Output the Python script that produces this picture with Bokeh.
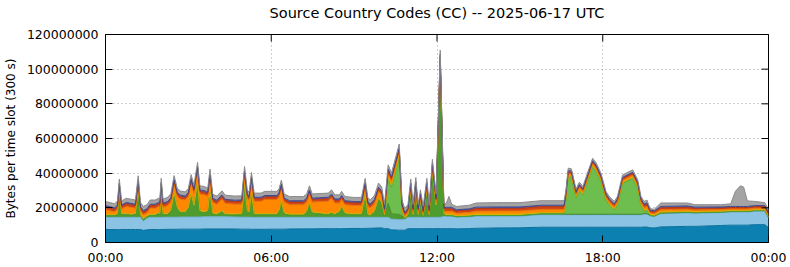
from bokeh.plotting import figure
from bokeh.models import ColumnDataSource, FixedTicker, Range1d, LinearAxis
from bokeh.embed import file_html
from bokeh.resources import INLINE

TITLE = "Source Country Codes (CC) -- 2025-06-17 UTC"
Y_LABEL = "Bytes per time slot (300 s)"
x_tick_pos = [0, 360, 720, 1080, 1440]
x_tick_labels = ["00:00", "06:00", "12:00", "18:00", "00:00"]
y_tick_pos = [0, 20000000, 40000000, 60000000, 80000000, 100000000, 120000000]
y_tick_labels = ["0", "20000000", "40000000", "60000000", "80000000", "100000000", "120000000"]

# minutes since 00:00 UTC (vertices)
minutes = [0, 10, 20, 26, 30, 35, 45, 55, 65, 71, 76, 82, 90, 97, 108, 115, 118, 121, 125, 135,
           142, 149, 156, 163, 173, 180, 186, 192, 200, 205, 215, 222, 227, 233, 242, 253, 260, 280, 296, 302,
           308, 312, 317, 323, 338, 346, 372, 377, 382, 388, 400, 430, 437, 443, 449, 484, 491, 498, 508, 513,
           520, 540, 556, 564, 570, 575, 584, 593, 600, 606, 614, 621, 638, 644, 650, 657, 663, 668, 674, 679,
           684, 690, 698, 703, 710, 718, 727, 735, 740, 746, 752, 762, 790, 805, 850, 900, 946, 996, 1000, 1005,
           1012, 1022, 1029, 1037, 1058, 1066, 1076, 1087, 1094, 1105, 1112, 1123, 1145, 1156, 1163, 1170, 1176, 1183, 1192, 1206,
           1264, 1280, 1336, 1358, 1368, 1379, 1386, 1394, 1410, 1432, 1440]

# values in millions of bytes per 300 s slot, one list per stacked series (bottom to top)
dark_blue = [7.5, 7.5, 7.5, 7.5, 7.5, 7.5, 7.5, 7.5, 7.5, 7.5, 7.5, 7.0, 7.3, 7.5, 7.5, 7.5, 7.5, 7.5, 7.5, 7.6,
             7.6, 7.6, 7.6, 7.7, 7.7, 7.7, 7.7, 7.7, 7.7, 7.7, 7.8, 7.8, 7.8, 7.8, 7.8, 7.8, 7.8, 7.8, 7.7, 7.7,
             7.7, 7.7, 7.6, 7.6, 7.6, 7.6, 7.7, 7.7, 7.7, 7.7, 7.8, 7.9, 7.9, 7.9, 7.9, 8.0, 8.0, 8.0, 8.0, 8.0,
             8.0, 8.1, 8.1, 8.1, 8.2, 8.2, 8.3, 8.4, 8.4, 8.0, 8.0, 7.3, 7.1, 7.1, 7.1, 8.0, 8.0, 8.0, 8.0, 8.0,
             8.0, 8.0, 8.0, 8.0, 8.0, 8.0, 8.0, 8.0, 8.0, 8.0, 8.0, 7.9, 8.0, 8.2, 8.4, 8.5, 8.8, 8.8, 8.8, 8.8,
             8.8, 8.8, 8.8, 8.8, 8.8, 8.8, 8.8, 8.8, 8.8, 8.8, 8.8, 8.8, 8.8, 8.8, 8.8, 8.9, 8.9, 8.5, 8.4, 9.0,
             9.3, 9.3, 9.8, 10.0, 10.0, 10.0, 10.0, 10.0, 10.3, 10.3, 8.6]
light_blue = [7.0, 7.0, 7.0, 7.0, 7.0, 7.0, 7.0, 7.0, 7.0, 7.0, 7.0, 5.3, 6.6, 7.0, 7.0, 7.0, 7.0, 7.0, 7.0, 7.0,
              7.0, 7.0, 7.0, 7.0, 7.0, 7.0, 7.0, 7.0, 7.0, 7.0, 7.0, 7.0, 7.0, 7.0, 7.0, 7.0, 7.0, 6.9, 6.9, 6.9,
              6.9, 6.9, 6.9, 6.9, 6.9, 6.9, 6.8, 6.8, 6.8, 6.8, 6.7, 6.6, 6.6, 6.6, 6.6, 6.5, 6.5, 6.5, 6.5, 6.5,
              6.5, 6.4, 6.4, 6.4, 6.3, 6.3, 6.2, 6.1, 6.1, 6.5, 6.5, 6.2, 6.1, 6.1, 6.3, 6.5, 6.5, 6.5, 6.5, 6.5,
              6.5, 6.5, 6.5, 6.5, 6.5, 6.5, 6.5, 7.0, 7.0, 7.0, 7.0, 6.6, 6.8, 6.9, 6.7, 6.6, 7.2, 7.2, 7.2, 7.2,
              7.2, 7.2, 7.2, 7.2, 7.2, 7.2, 7.2, 7.2, 7.2, 7.2, 7.2, 7.2, 7.2, 7.2, 7.2, 7.4, 7.4, 6.8, 6.6, 7.6,
              7.7, 7.5, 7.4, 7.5, 7.5, 7.5, 7.5, 7.5, 7.7, 7.7, 5.6]
dark_green = [1.0, 1.0, 1.0, 1.6, 14.2, 1.5, 1.8, 1.3, 1.6, 15.6, 1.0, 0.8, 1.0, 1.2, 1.2, 2.2, 1.5, 13.5, 1.5, 1.5,
              3.5, 13.6, 5.0, 2.5, 2.5, 5.0, 13.1, 6.0, 19.1, 3.0, 2.5, 3.0, 14.1, 1.6, 1.2, 3.0, 1.2, 1.2, 1.5, 18.4,
              3.0, 2.5, 14.0, 1.5, 1.5, 1.5, 1.5, 3.5, 9.0, 2.0, 1.3, 1.3, 3.0, 8.0, 2.5, 1.5, 2.5, 1.5, 3.0, 6.0,
              2.0, 1.5, 1.5, 12.5, 1.2, 1.0, 3.0, 10.5, 8.0, 1.0, 8.0, 3.0, 3.0, 2.0, 0.5, 1.0, 15.2, 1.0, 16.1, 1.0,
              9.0, 0.5, 15.6, 0.8, 26.6, 6.5, 89.6, 1.0, 0.5, 0.5, 0.5, 0.4, 0.4, 0.5, 0.5, 0.5, 0.5, 0.5, 0.3, 0.3,
              0.3, 0.3, 0.3, 0.3, 0.3, 0.3, 0.3, 0.3, 0.3, 0.3, 0.3, 0.3, 0.3, 0.3, 0.3, 0.4, 0.4, 0.3, 0.3, 0.4,
              0.4, 0.4, 0.4, 0.4, 0.4, 0.4, 0.4, 0.4, 0.4, 0.4, 0.3]
light_green = [0, 0, 0, 0, 0, 0, 0, 0, 0, 0, 0, 0, 0, 0, 0, 0, 0, 0, 0, 0,
               0, 0, 0, 0, 0, 0, 0, 0, 0, 0, 0, 0, 0, 0, 0, 0, 0, 0, 0, 0,
               0, 0, 0, 0, 0, 0, 0, 0, 0, 0, 0, 0, 0, 0, 0, 0, 0, 0, 0, 0,
               0, 0, 0, 0, 0, 0, 0, 0, 0, 0, 14.4, 15.6, 32.7, 2.0, 0, 0, 0, 0, 0, 0,
               0, 0, 0, 0, 0, 0, 0, 0, 0, 0, 0, 0, 0, 0, 0, 0, 0, 0, 8.8, 21.7,
               21.3, 9.6, 13.6, 11.3, 27.4, 24.6, 18.8, 8.3, 5.4, 2.5, 5.4, 17.8, 20.7, 15.0, 5.4, 1.2, 2.0, 0, 0, 0,
               0, 0, 0, 0, 0, 0, 0, 0, 0, 0, 0]
yellow = [0.7] * 74 + [0.5] + [0.7] * 13 + [0.8, 0.8, 0.8, 0.7, 0.7, 0.8, 0.8, 0.8, 0.8, 0.8, 0.6, 0.6,
          0.6, 0.6, 0.6, 0.6, 0.6, 0.6, 0.6, 0.6, 0.6, 0.6, 0.6, 0.6, 0.6, 0.6, 0.6, 0.7, 0.7, 0.5, 0.5, 0.6,
          0.6, 0.5, 0.5, 0.5, 0.5, 0.5, 0.5, 0.5, 0.5, 0.5, 0.5]
orange = [2.8, 2.1, 1.5, 2.5, 2.5, 2.6, 3.8, 3.8, 3.0, 3.0, 2.1, 2.3, 1.5, 3.4, 3.4, 3.4, 3.6, 3.6, 3.6, 4.6,
          4.6, 5.0, 6.1, 7.1, 6.6, 6.1, 6.0, 7.1, 7.0, 9.6, 9.6, 8.1, 8.0, 6.0, 5.4, 6.6, 5.9, 5.5, 5.4, 5.5,
          7.1, 6.6, 6.5, 7.1, 7.1, 8.1, 8.1, 7.6, 7.1, 6.1, 5.3, 5.3, 5.1, 4.8, 5.6, 7.1, 8.0, 6.1, 4.6, 3.6,
          4.6, 4.6, 4.6, 4.6, 4.4, 3.8, 4.1, 3.9, 4.1, 1.1, 2.5, 2.5, 2.5, 2.0, 1.0, 1.1, 1.5, 1.1, 1.5, 1.1,
          1.5, 0.6, 1.5, 0.8, 1.5, 1.6, 1.5, 1.1, 1.7, 1.7, 1.7, 1.3, 1.4, 1.7, 1.8, 1.8, 1.8, 1.8, 1.2, 1.2,
          1.2, 1.2, 1.2, 1.2, 1.2, 1.2, 1.2, 1.2, 1.2, 1.2, 1.2, 1.2, 1.2, 1.2, 1.2, 1.5, 1.5, 1.0, 1.0, 1.3,
          1.2, 1.0, 0.9, 0.9, 0.9, 0.9, 0.9, 0.9, 0.9, 0.9, 0.9]
red = [1.5] * 74 + [1.2] + [1.5] * 13 + [1.5, 1.5, 1.5, 1.3, 1.4, 1.5, 1.5, 1.5, 1.6, 1.6, 1.1, 1.1,
       1.1, 1.1, 1.1, 1.1, 1.1, 1.1, 1.1, 1.1, 1.1, 1.1, 1.1, 1.1, 1.1, 1.1, 1.1, 1.3, 1.3, 0.9, 0.9, 1.1,
       1.1, 1.0, 0.9, 0.9, 0.9, 0.9, 0.9, 0.9, 0.9, 0.9, 0.8]
purple = [0.8] * 74 + [0.7] + [0.8] * 13 + [0.8, 0.8, 0.8, 0.7, 0.7, 0.8, 0.8, 0.8, 0.8, 0.8, 0.6, 0.6,
          0.6, 0.6, 0.6, 0.6, 0.6, 0.6, 0.6, 0.6, 0.6, 0.6, 0.6, 0.6, 0.6, 0.6, 0.6, 0.7, 0.7, 0.6, 0.6, 0.8,
          0.8, 0.7, 0.6, 0.6, 0.6, 0.6, 0.6, 0.6, 0.6, 0.6, 0.6]
gray = [2.4] * 74 + [2.2] + [2.4] * 13 + [2.2, 6.3, 1.7, 1.9, 2.1, 2.4, 2.5, 2.5, 2.6, 2.6, 1.4, 1.4,
        1.4, 1.4, 1.4, 1.4, 1.4, 1.4, 1.4, 1.4, 1.4, 1.4, 1.4, 1.4, 1.4, 1.4, 1.4, 1.6, 1.6, 0.9, 0.9, 2.0,
        1.7, 1.4, 1.3, 1.5, 8.7, 11.9, 11.2, 3.2, 2.4, 1.7, 1.7]

series = {
    "dark_blue": dark_blue, "light_blue": light_blue, "dark_green": dark_green,
    "light_green": light_green, "yellow": yellow, "orange": orange,
    "red": red, "purple": purple, "gray": gray,
}
names = list(series.keys())
fills = ["#0b80b1", "#8ac3e3", "#4e9c2e", "#6dbd4f", "#f2c200", "#ff8800", "#d2441a", "#4f5aa6", "#a4a4a4"]
edges = ["#0a6f9a", "#73afd3", "#3f8a24", "#4f9e32", "#d6a800", "#e47300", "#b23612", "#3e4890", "#8a8a8a"]

data = {"t": minutes}
for k in names:
    data[k] = [v * 1e6 for v in series[k]]
src = ColumnDataSource(data)

X0, X1 = 0, 1440
Y0, Y1 = 0, 120e6
FRAME_W, FRAME_H = 665, 209
TICK_PX = 7

FONT = "DejaVu Sans"
p = figure(width=790, height=267, output_backend="svg", toolbar_location=None,
           x_range=Range1d(X0, X1), y_range=Range1d(Y0, Y1),
           min_border_left=103, min_border_right=22, min_border_top=34, min_border_bottom=24,
           background_fill_color="white", border_fill_color="white")

p.varea_stack(names, x="t", color=fills, source=src)
p.vline_stack(names, x="t", color=edges, line_width=1, source=src)

p.outline_line_color = "black"
p.outline_line_width = 1
p.outline_line_alpha = 1

for g in (p.xgrid, p.ygrid):
    g.grid_line_color = "#a0a0a0"
    g.grid_line_dash = "1 3"
    g.grid_line_width = 1
p.xgrid.ticker = FixedTicker(ticks=x_tick_pos)
p.ygrid.ticker = FixedTicker(ticks=y_tick_pos)

xax = p.xaxis[0]
xax.ticker = FixedTicker(ticks=x_tick_pos)
xax.major_label_overrides = {pos: lab for pos, lab in zip(x_tick_pos, x_tick_labels)}
yax = p.yaxis[0]
yax.ticker = FixedTicker(ticks=y_tick_pos)
yax.major_label_overrides = {pos: lab for pos, lab in zip(y_tick_pos, y_tick_labels)}
yax.axis_label = Y_LABEL
for ax in (xax, yax):
    ax.major_tick_in = TICK_PX
    ax.major_tick_out = 0
    ax.minor_tick_in = 0
    ax.minor_tick_out = 0
    ax.major_tick_line_color = "black"
    ax.axis_line_color = "black"
    ax.major_label_text_font = FONT
    ax.major_label_text_font_size = "12.5px"
    ax.major_label_text_color = "black"
    ax.major_label_standoff = 7
yax.axis_label_text_font = FONT
yax.axis_label_text_font_size = "12px"
yax.axis_label_text_font_style = "normal"
yax.axis_label_text_color = "black"
yax.axis_label_standoff = 6

# title drawn as the label of a tick-less axis above the frame (centred over the plot area)
top = LinearAxis(ticker=FixedTicker(ticks=[]), axis_label=TITLE,
                 axis_label_text_font=FONT, axis_label_text_font_size="14.5px",
                 axis_label_text_font_style="normal", axis_label_text_color="black",
                 axis_label_standoff=14, major_label_standoff=0,
                 major_tick_in=0, major_tick_out=0, minor_tick_in=0, minor_tick_out=0,
                 axis_line_color="black")
p.add_layout(top, "above")

# mirrored inward tick marks on the top and right borders (gnuplot style)
dx = TICK_PX * (X1 - X0) / FRAME_W
dy = TICK_PX * (Y1 - Y0) / FRAME_H
p.segment(x0=x_tick_pos, x1=x_tick_pos, y0=[Y1] * len(x_tick_pos), y1=[Y1 - dy] * len(x_tick_pos),
          line_color="black", line_width=1)
p.segment(x0=[X1] * len(y_tick_pos), x1=[X1 - dx] * len(y_tick_pos), y0=y_tick_pos, y1=y_tick_pos,
          line_color="black", line_width=1)

open("out.html", "w").write(file_html(p, INLINE))
